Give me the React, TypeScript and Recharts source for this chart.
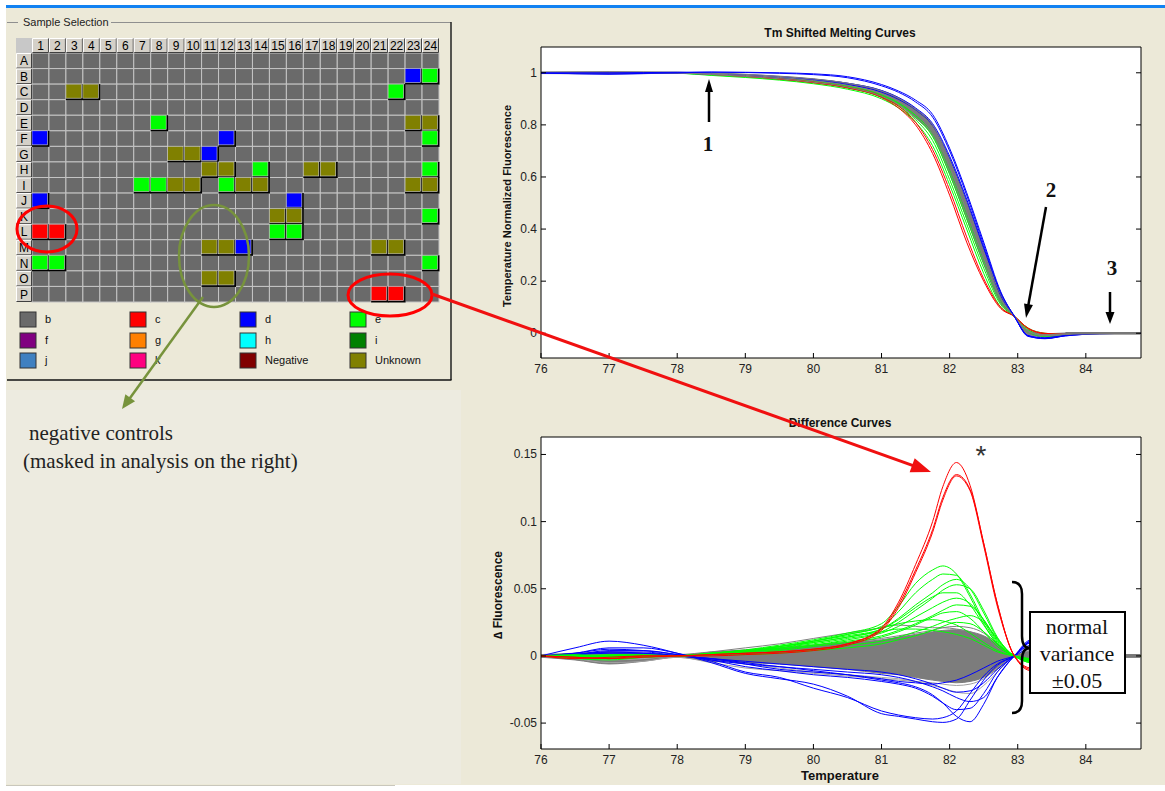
import React from 'react';
import { ComposedChart, Line, Area, XAxis, YAxis, ScatterChart, Scatter } from 'recharts';

const SANS = '"Liberation Sans", Arial, Helvetica, sans-serif';
const SERIF = '"Liberation Serif", "Times New Roman", serif';

const GRAY = '#808080';
const GREEN = '#00FF00';
const BLUE = '#0000FF';
const RED = '#FF0000';

// ---------- plate ----------
const plateCols = [1, 2, 3, 4, 5, 6, 7, 8, 9, 10, 11, 12, 13, 14, 15, 16, 17, 18, 19, 20, 21, 22, 23, 24];
const plateRows = ['A', 'B', 'C', 'D', 'E', 'F', 'G', 'H', 'I', 'J', 'K', 'L', 'M', 'N', 'O', 'P'];
const plateRowTicks = [1, 2, 3, 4, 5, 6, 7, 8, 9, 10, 11, 12, 13, 14, 15, 16];

const wellsC = ['L1', 'L2', 'P21', 'P22'];
const wellsD = ['B23', 'F1', 'F12', 'G11', 'J1', 'J16', 'M13'];
const wellsE = ['B24', 'C22', 'E8', 'F24', 'H14', 'H24', 'I7', 'I8', 'I12', 'K24', 'L15', 'L16', 'N1', 'N2', 'N24'];
const wellsUnknown = [
  'C3', 'C4', 'E23', 'E24', 'G9', 'G10', 'H11', 'H12', 'H17', 'H18', 'I9', 'I10', 'I13', 'I14',
  'I23', 'I24', 'K15', 'K16', 'M11', 'M12', 'M21', 'M22', 'O11', 'O12',
];

const legendLabels = ['b', 'c', 'd', 'e', 'f', 'g', 'h', 'i', 'j', 'k', 'Negative', 'Unknown'];
const legendColors = ['#6A6A6A', '#FF0000', '#0000FF', '#00FF00', '#800080', '#FF8000', '#00FFFF', '#008000', '#3F80C0', '#FF0080', '#800000', '#808000'];

const groupColor: Record<string, string> = {};
legendLabels.forEach((l, i) => { groupColor[l] = legendColors[i]; });

const groupOf = (id: string) =>
  wellsC.includes(id) ? 'c'
    : wellsD.includes(id) ? 'd'
      : wellsE.includes(id) ? 'e'
        : wellsUnknown.includes(id) ? 'Unknown' : 'b';

const wellData = plateRows
  .flatMap((r, ri) => plateCols.map((c) => ({ col: c, row: ri + 1, group: groupOf(r + c) })))
  .sort((a, b) => (a.group === 'b' ? 0 : 1) - (b.group === 'b' ? 0 : 1));

// ---------- melting curves ----------
const tempTicks = [76, 77, 78, 79, 80, 81, 82, 83, 84];
const meltTicks = [0, 0.2, 0.4, 0.6, 0.8, 1];
const meltTemps = [76, 77, 78, 78.5, 79, 79.5, 80, 80.5, 81, 81.25, 81.5, 81.75, 82, 82.25, 82.5, 82.75, 82.95, 83.15, 83.4, 83.7, 84.2, 84.8];

const meltGrayHi = [1.003, 1.004, 1.002, 0.999, 0.994, 0.987, 0.977, 0.96, 0.932, 0.904, 0.862, 0.8, 0.67, 0.505, 0.325, 0.155, 0.068, 0.012, -0.002, 0.001, 0.002, 0.002];
const meltGrayLo = [0.997, 0.996, 0.998, 0.992, 0.985, 0.976, 0.963, 0.944, 0.908, 0.876, 0.826, 0.758, 0.612, 0.44, 0.265, 0.115, 0.062, -0.004, -0.014, -0.008, -0.002, -0.002];

const meltGreen1 = [1, 1, 0.998, 0.99, 0.982, 0.972, 0.958, 0.937, 0.9, 0.865, 0.81, 0.72, 0.57, 0.4, 0.23, 0.1, 0.065, 0.02, 0, -0.005, 0, 0];
const meltGreen2 = [1, 1, 0.999, 0.992, 0.985, 0.975, 0.962, 0.942, 0.906, 0.872, 0.82, 0.74, 0.59, 0.42, 0.25, 0.11, 0.065, 0.01, -0.008, -0.006, 0, 0];
const meltGreen3 = [1, 1, 1, 0.994, 0.987, 0.978, 0.966, 0.947, 0.912, 0.88, 0.83, 0.755, 0.61, 0.44, 0.27, 0.12, 0.065, 0.015, -0.01, -0.006, 0, 0];
const meltGreen4 = [1, 1, 1, 0.995, 0.988, 0.98, 0.968, 0.95, 0.915, 0.884, 0.836, 0.765, 0.625, 0.455, 0.28, 0.125, 0.065, 0.005, -0.012, -0.007, 0, 0];

const meltGray1 = [1, 1, 1, 0.995, 0.99, 0.982, 0.97, 0.952, 0.92, 0.89, 0.845, 0.79, 0.64, 0.47, 0.29, 0.13, 0.065, 0.005, -0.008, -0.004, 0, 0];
const meltGray2 = [1.002, 1.003, 1.002, 0.998, 0.994, 0.986, 0.976, 0.96, 0.93, 0.902, 0.86, 0.8, 0.665, 0.5, 0.315, 0.15, 0.065, 0.008, -0.006, -0.002, 0, 0];
const meltGray3 = [0.998, 0.998, 0.999, 0.993, 0.986, 0.977, 0.964, 0.945, 0.91, 0.878, 0.83, 0.765, 0.62, 0.45, 0.275, 0.12, 0.065, 0.01, -0.01, -0.005, 0, 0];

const meltBlue1 = [1, 1, 1.002, 1.003, 1.002, 1.0, 0.996, 0.985, 0.955, 0.93, 0.895, 0.84, 0.71, 0.54, 0.35, 0.16, 0.065, -0.008, -0.02, -0.01, -0.002, 0];
const meltBlue2 = [0.998, 0.996, 1, 1.002, 1.001, 0.998, 0.993, 0.981, 0.95, 0.925, 0.888, 0.83, 0.7, 0.53, 0.34, 0.155, 0.065, -0.01, -0.021, -0.01, -0.002, 0];
const meltBlue3 = [1, 0.995, 0.999, 0.997, 0.992, 0.985, 0.975, 0.96, 0.932, 0.905, 0.865, 0.805, 0.68, 0.515, 0.33, 0.15, 0.065, -0.012, -0.02, -0.008, 0, 0];
const meltBlue4 = [1, 0.996, 0.998, 0.995, 0.99, 0.982, 0.972, 0.955, 0.926, 0.898, 0.858, 0.797, 0.67, 0.505, 0.322, 0.145, 0.065, -0.009, -0.017, -0.007, 0, 0];

const meltRed1 = [1, 1, 1, 0.994, 0.986, 0.976, 0.962, 0.942, 0.905, 0.865, 0.8, 0.69, 0.53, 0.35, 0.2, 0.095, 0.065, 0.02, 0, -0.004, 0, 0];
const meltRed2 = [1, 1, 1, 0.995, 0.988, 0.978, 0.965, 0.945, 0.91, 0.872, 0.81, 0.705, 0.55, 0.37, 0.21, 0.1, 0.065, 0.018, -0.002, -0.004, 0, 0];

// flat gray baseline drawn on top at the high-temperature end
const meltTail = [null, null, null, null, null, null, null, null, null, null, null, null, null, null, null, null, null, null, null, 0, 0, 0];

const meltSeries = [
  { key: 'g1', color: GREEN, values: meltGreen1 },
  { key: 'g2', color: GREEN, values: meltGreen2 },
  { key: 'g3', color: GREEN, values: meltGreen3 },
  { key: 'g4', color: GREEN, values: meltGreen4 },
  { key: 'r1', color: RED, values: meltRed1 },
  { key: 'r2', color: RED, values: meltRed2 },
  { key: 'b3', color: BLUE, values: meltBlue3 },
  { key: 'b4', color: BLUE, values: meltBlue4 },
  { key: 'k1', color: GRAY, values: meltGray1 },
  { key: 'k2', color: GRAY, values: meltGray2 },
  { key: 'k3', color: GRAY, values: meltGray3 },
  { key: 'b1', color: BLUE, values: meltBlue1 },
  { key: 'b2', color: BLUE, values: meltBlue2 },
  { key: 'tail', color: '#777', values: meltTail, width: 2.5 },
];

// ---------- difference curves ----------
const diffTicks = [-0.05, 0, 0.05, 0.1, 0.15];
const diffTemps = [76, 76.5, 77, 77.5, 78, 78.5, 79, 79.5, 80, 80.5, 81, 81.25, 81.5, 81.75, 81.9, 82.1, 82.3, 82.5, 82.7, 82.95, 83.2, 83.5, 84, 84.8];

const diffGrayHi = [0.001, 0.002, 0.003, 0.002, 0.001, 0.003, 0.0045, 0.006, 0.008, 0.01, 0.012, 0.014, 0.016, 0.018, 0.019, 0.0195, 0.018, 0.015, 0.009, 0.001, 0.004, 0.002, 0.001, 0.001];
const diffGrayLo = [-0.001, -0.003, -0.006, -0.004, -0.001, -0.004, -0.005, -0.006, -0.008, -0.01, -0.013, -0.014, -0.016, -0.018, -0.019, -0.02, -0.019, -0.016, -0.01, -0.001, -0.004, -0.002, -0.001, -0.001];

const diffGray1 = [0, 0.001, 0.002, 0.001, 0, 0.003, 0.006, 0.009, 0.013, 0.017, 0.021, 0.023, 0.022, 0.021, 0.021, 0.02, 0.018, 0.013, 0.006, 0, -0.003, 0, 0, 0];
const diffGray2 = [0, -0.002, -0.005, -0.004, -0.001, -0.005, -0.009, -0.011, -0.013, -0.015, -0.017, -0.018, -0.019, -0.02, -0.021, -0.022, -0.021, -0.017, -0.009, 0, 0.004, 0, 0, 0];
const diffGray3 = [0, -0.001, -0.003, -0.002, 0, -0.003, -0.006, -0.009, -0.012, -0.014, -0.016, -0.017, -0.019, -0.022, -0.024, -0.027, -0.028, -0.022, -0.012, 0, 0.005, 0, 0, 0];
const diffGray4 = [0, 0.001, 0.001, 0.001, 0, 0.001, 0.003, 0.005, 0.008, 0.01, 0.013, 0.015, 0.017, 0.019, 0.021, 0.022, 0.021, 0.017, 0.009, 0, -0.003, 0, 0, 0];

const diffBlue1 = [0, 0.006, 0.011, 0.008, 0.002, -0.005, -0.013, -0.017, -0.021, -0.03, -0.043, -0.045, -0.047, -0.049, -0.0495, -0.047, -0.033, -0.018, -0.007, 0, 0.011, 0.003, 0, 0];
const diffBlue2 = [0, 0.002, 0.006, 0.006, 0.002, -0.004, -0.012, -0.016, -0.024, -0.031, -0.041, -0.044, -0.046, -0.047, -0.046, -0.041, -0.028, -0.015, -0.006, 0, 0.01, 0.002, 0, 0];
const diffBlue3 = [0, 0.001, 0.004, 0.004, 0.001, -0.003, -0.006, -0.008, -0.011, -0.014, -0.018, -0.02, -0.023, -0.029, -0.035, -0.045, -0.049, -0.036, -0.016, 0, 0.012, 0.003, 0, 0];
const diffBlue4 = [0, 0.002, 0.005, 0.004, 0.001, -0.003, -0.008, -0.011, -0.014, -0.016, -0.019, -0.021, -0.024, -0.03, -0.035, -0.04, -0.039, -0.028, -0.012, 0, 0.011, 0.002, 0, 0];
const diffBlue5 = [0, 0.001, 0.003, 0.003, 0, -0.002, -0.005, -0.008, -0.01, -0.012, -0.014, -0.016, -0.019, -0.023, -0.026, -0.031, -0.034, -0.031, -0.016, 0, 0.01, 0.002, 0, 0];
const diffBlue6 = [0, 0.001, 0.002, 0.002, 0, -0.002, -0.004, -0.006, -0.008, -0.01, -0.012, -0.014, -0.017, -0.021, -0.024, -0.027, -0.026, -0.02, -0.01, 0, 0.008, 0.001, 0, 0];
const diffBlue7 = [0, 0.001, 0.003, 0.002, 0, -0.002, -0.006, -0.01, -0.012, -0.014, -0.017, -0.019, -0.02, -0.021, -0.02, -0.018, -0.014, -0.009, -0.004, 0, 0.006, 0.001, 0, 0];

const diffGreen1 = [0, 0.001, 0, 0, 0, 0.002, 0.0045, 0.008, 0.012, 0.017, 0.024, 0.037, 0.054, 0.064, 0.067, 0.061, 0.044, 0.024, 0.009, 0, -0.005, -0.001, 0, 0];
const diffGreen2 = [0, -0.001, -0.002, -0.001, 0, 0.002, 0.004, 0.007, 0.011, 0.016, 0.022, 0.033, 0.047, 0.057, 0.061, 0.06, 0.046, 0.026, 0.01, 0, -0.005, -0.001, 0, 0];
const diffGreen3 = [0, 0, 0.001, 0.001, 0, 0.002, 0.004, 0.007, 0.01, 0.014, 0.02, 0.028, 0.038, 0.047, 0.053, 0.057, 0.05, 0.032, 0.013, 0, -0.004, -0.001, 0, 0];
const diffGreen4 = [0, 0, -0.001, 0, 0, 0.001, 0.003, 0.006, 0.009, 0.013, 0.018, 0.025, 0.034, 0.043, 0.049, 0.053, 0.05, 0.034, 0.014, 0, -0.004, 0, 0, 0];
const diffGreen5 = [0, -0.001, -0.001, 0, 0, 0.002, 0.004, 0.007, 0.011, 0.015, 0.02, 0.027, 0.036, 0.044, 0.047, 0.047, 0.038, 0.023, 0.009, 0, -0.004, 0, 0, 0];
const diffGreen6 = [0, 0, 0, 0, 0, 0.001, 0.003, 0.005, 0.008, 0.012, 0.017, 0.022, 0.029, 0.036, 0.04, 0.043, 0.039, 0.027, 0.011, 0, -0.003, 0, 0, 0];
const diffGreen7 = [0, -0.002, -0.003, -0.001, 0, 0.001, 0.003, 0.005, 0.008, 0.011, 0.015, 0.019, 0.024, 0.03, 0.034, 0.038, 0.037, 0.027, 0.012, 0, -0.003, 0, 0, 0];
const diffGreen8 = [0, 0, 0, 0, 0, 0.001, 0.002, 0.004, 0.007, 0.01, 0.014, 0.018, 0.023, 0.029, 0.032, 0.033, 0.028, 0.018, 0.007, 0, -0.003, 0, 0, 0];
const diffGreen9 = [0, 0, 0, 0, 0, 0.001, 0.002, 0.003, 0.005, 0.008, 0.011, 0.014, 0.018, 0.022, 0.025, 0.028, 0.03, 0.025, 0.013, 0, -0.003, 0, 0, 0];
const diffGreen10 = [0, -0.001, -0.001, 0, 0, 0.002, 0.004, 0.007, 0.011, 0.016, 0.021, 0.024, 0.026, 0.027, 0.026, 0.023, 0.017, 0.01, 0.004, 0, -0.002, 0, 0, 0];
const diffGreen11 = [0, 0, 0, 0, 0, 0.001, 0.001, 0.002, 0.004, 0.006, 0.009, 0.012, 0.015, 0.019, 0.022, 0.025, 0.024, 0.018, 0.009, 0, -0.002, 0, 0, 0];
const diffGreen12 = [0, 0, 0, 0, 0, 0.001, 0.003, 0.006, 0.01, 0.014, 0.018, 0.02, 0.02, 0.019, 0.018, 0.016, 0.013, 0.008, 0.003, 0, -0.002, 0, 0, 0];

const diffRed1 = [0, -0.001, -0.002, -0.001, 0, 0.001, 0.002, 0.003, 0.005, 0.009, 0.021, 0.04, 0.068, 0.1, 0.126, 0.144, 0.127, 0.084, 0.039, 0, -0.009, -0.002, 0, 0];
const diffRed2 = [0, -0.002, -0.001, 0, 0, 0.001, 0.002, 0.003, 0.005, 0.009, 0.02, 0.038, 0.064, 0.094, 0.118, 0.135, 0.124, 0.084, 0.039, 0, -0.01, -0.002, 0, 0];
const diffRed3 = [0, -0.001, -0.002, 0, 0, 0, 0.001, 0.002, 0.004, 0.008, 0.019, 0.036, 0.062, 0.092, 0.116, 0.134, 0.123, 0.082, 0.037, 0, -0.011, -0.002, 0, 0];

const diffTail = [null, null, null, null, null, null, null, null, null, null, null, null, null, null, null, null, null, null, null, null, null, 0, 0, 0];

const diffSeries = [
  { key: 'k1', color: GRAY, values: diffGray1 },
  { key: 'k2', color: '#A0A0A0', values: diffGray2 },
  { key: 'k3', color: '#A8A8A8', values: diffGray3 },
  { key: 'k4', color: GRAY, values: diffGray4 },
  { key: 'b1', color: BLUE, values: diffBlue1 },
  { key: 'b2', color: BLUE, values: diffBlue2 },
  { key: 'b3', color: BLUE, values: diffBlue3 },
  { key: 'b4', color: BLUE, values: diffBlue4 },
  { key: 'b5', color: BLUE, values: diffBlue5 },
  { key: 'b6', color: BLUE, values: diffBlue6 },
  { key: 'b7', color: BLUE, values: diffBlue7 },
  { key: 'g1', color: GREEN, values: diffGreen1 },
  { key: 'g2', color: GREEN, values: diffGreen2 },
  { key: 'g3', color: GREEN, values: diffGreen3 },
  { key: 'g4', color: GREEN, values: diffGreen4 },
  { key: 'g5', color: GREEN, values: diffGreen5 },
  { key: 'g6', color: GREEN, values: diffGreen6 },
  { key: 'g7', color: GREEN, values: diffGreen7 },
  { key: 'g8', color: GREEN, values: diffGreen8 },
  { key: 'g9', color: GREEN, values: diffGreen9 },
  { key: 'g10', color: GREEN, values: diffGreen10 },
  { key: 'g11', color: GREEN, values: diffGreen11 },
  { key: 'g12', color: GREEN, values: diffGreen12 },
  { key: 'r1', color: RED, values: diffRed1 },
  { key: 'r2', color: RED, values: diffRed2 },
  { key: 'r3', color: RED, values: diffRed3 },
  { key: 'tail', color: '#777', values: diffTail, width: 3 },
];

type Series = { key: string; color: string; values: (number | null)[]; width?: number };

function buildRows(temps: number[], lo: number[], hi: number[], series: Series[]) {
  return temps.map((t, i) => {
    const row: Record<string, any> = { t, band: [lo[i], hi[i]] };
    series.forEach((s) => { row[s.key] = s.values[i]; });
    return row;
  });
}

const meltData = buildRows(meltTemps, meltGrayLo, meltGrayHi, meltSeries);
const diffData = buildRows(diffTemps, diffGrayLo, diffGrayHi, diffSeries);

// ---------- axis ticks (MATLAB style: marks inside the box) ----------
function BottomTick(props: any) {
  const { x, y, payload } = props;
  return (
    <g>
      <line x1={x} x2={x} y1={y} y2={y - 5} stroke="#000" />
      <text x={x} y={y + 15} textAnchor="middle" fontSize={12} fontFamily={SANS} fill="#222">{payload.value}</text>
    </g>
  );
}
function TopTick(props: any) {
  const { x, y } = props;
  return <line x1={x} x2={x} y1={y} y2={y + 5} stroke="#000" />;
}
function LeftTick(props: any) {
  const { x, y, payload } = props;
  return (
    <g>
      <line x1={x} x2={x + 5} y1={y} y2={y} stroke="#000" />
      <text x={x - 4} y={y + 4} textAnchor="end" fontSize={12} fontFamily={SANS} fill="#222">{payload.value}</text>
    </g>
  );
}
function RightTick(props: any) {
  const { x, y } = props;
  return <line x1={x} x2={x - 5} y1={y} y2={y} stroke="#000" />;
}

function seriesLine(s: Series) {
  return (
    <Line key={s.key} dataKey={s.key} type="monotone" stroke={s.color} strokeWidth={s.width ?? 1}
      dot={false} activeDot={false} isAnimationActive={false} />
  );
}

// bandAt: how many series are drawn beneath the dense gray band
function CurveChart({ data, series, yDomain, yTicks, bottom, bandAt }: any) {
  return (
    <ComposedChart width={670} height={370} data={data} margin={{ top: 26, right: 18, bottom, left: 6 }}>
      <XAxis dataKey="t" type="number" domain={[76, 84.81]} ticks={tempTicks} interval={0} allowDataOverflow
        height={20} tickSize={0} tickMargin={0} tick={<BottomTick />} stroke="#000" />
      <XAxis xAxisId="top" orientation="top" type="number" domain={[76, 84.81]} ticks={tempTicks} interval={0}
        allowDataOverflow height={1} tickSize={0} tickMargin={0} tick={<TopTick />} stroke="#000" />
      <YAxis type="number" domain={yDomain} ticks={yTicks} interval={0} allowDataOverflow width={45}
        tickSize={0} tickMargin={0} tick={<LeftTick />} stroke="#000" />
      <YAxis yAxisId="right" orientation="right" type="number" domain={yDomain} ticks={yTicks} interval={0}
        allowDataOverflow width={1} tickSize={0} tickMargin={0} tick={<RightTick />} stroke="#000" />
      {series.slice(0, bandAt).map(seriesLine)}
      <Area dataKey="band" type="monotone" fill="#7C7C7C" fillOpacity={1} stroke="#7C7C7C" strokeWidth={1}
        isAnimationActive={false} activeDot={false} />
      {series.slice(bandAt).map(seriesLine)}
    </ComposedChart>
  );
}

// ---------- plate chart ----------
const PLATE_W = 450;
const PLATE_H = 310;
const CELL_W = (PLATE_W - 16 - 16 - 11) / 24;
const CELL_H = (PLATE_H - 38 - 15 - 8) / 16;

function WellShape(props: any) {
  const { cx, cy, payload } = props;
  const x = cx - CELL_W / 2;
  const y = cy - CELL_H / 2;
  if (payload.group === 'b') {
    return <rect x={x} y={y} width={CELL_W} height={CELL_H} fill="#6A6A6A" stroke="#C4C4C4" strokeWidth={1} />;
  }
  return (
    <g>
      <rect x={x} y={y} width={CELL_W + 0.5} height={CELL_H + 0.5} fill="#000" />
      <rect x={x} y={y} width={CELL_W - 1.5} height={CELL_H - 1.5} fill={groupColor[payload.group]} stroke="#D8D8D8" strokeWidth={0.6} />
    </g>
  );
}

function headerBox(x: number, y: number, w: number, h: number) {
  return (
    <g>
      <rect x={x} y={y} width={w} height={h} fill="#D4D0C8" />
      <path d={`M${x + 0.5},${y + h - 0.5} V${y + 0.5} H${x + w - 0.5}`} stroke="#fff" fill="none" />
      <path d={`M${x + w - 0.5},${y + 0.5} V${y + h - 0.5} H${x + 0.5}`} stroke="#404040" fill="none" />
    </g>
  );
}

function ColHeader(props: any) {
  const { x, y, payload } = props;
  return (
    <g>
      {headerBox(x - CELL_W / 2, y - 15, CELL_W, 15)}
      <text x={x} y={y - 3} textAnchor="middle" fontSize={12} fontFamily={SANS} fill="#000">{payload.value}</text>
    </g>
  );
}
function RowHeader(props: any) {
  const { x, y, payload } = props;
  return (
    <g>
      {headerBox(x - 16, y - CELL_H / 2, 16, CELL_H)}
      <text x={x - 8} y={y + 4.5} textAnchor="middle" fontSize={12} fontFamily={SANS} fill="#000">
        {plateRows[payload.value - 1]}
      </text>
    </g>
  );
}

function PlateChart() {
  return (
    <ScatterChart width={PLATE_W} height={PLATE_H} margin={{ top: 38, right: 11, bottom: 8, left: 16 }}>
      <XAxis dataKey="col" type="number" orientation="top" domain={[0.5, 24.5]} ticks={plateCols} interval={0}
        height={15} tickSize={0} tickMargin={0} axisLine={false} tick={<ColHeader />} />
      <YAxis dataKey="row" type="number" reversed domain={[0.5, 16.5]} ticks={plateRowTicks} interval={0}
        width={16} tickSize={0} tickMargin={0} axisLine={false} tick={<RowHeader />} />
      <Scatter data={wellData} shape={<WellShape />} isAnimationActive={false} />
    </ScatterChart>
  );
}

function Arrow({ x1, y1, x2, y2, color, w, head, headW }: any) {
  const a = Math.atan2(y2 - y1, x2 - x1);
  const bx = x2 - head * Math.cos(a);
  const by = y2 - head * Math.sin(a);
  const px = (-Math.sin(a) * headW) / 2;
  const py = (Math.cos(a) * headW) / 2;
  return (
    <g>
      <line x1={x1} y1={y1} x2={bx + head * 0.2 * Math.cos(a)} y2={by + head * 0.2 * Math.sin(a)} stroke={color} strokeWidth={w} />
      <polygon points={`${x2},${y2} ${bx + px},${by + py} ${bx - px},${by - py}`} fill={color} />
    </g>
  );
}

const OLIVE_LINE = '#77933C';

export default function App() {
  const legendX = [20, 130, 240, 350];
  const legendY = [312, 333, 353];
  return (
    <div style={{ position: 'fixed', left: 0, top: 0, width: 1165, height: 791, background: '#fff', overflow: 'hidden' }}>
      {/* background panels */}
      <svg width={1165} height={791} style={{ position: 'absolute', left: 0, top: 0 }}>
        <rect x={6} y={8} width={1159} height={777} fill="#ECE9D8" />
        <rect x={6} y={390} width={455} height={394} fill="#EDEBE0" />
        <rect x={6} y={5} width={1159} height={3} fill="#1282F2" />
        <line x1={6} y1={785.5} x2={395} y2={785.5} stroke="#C9C7BC" />
        {/* group box */}
        <line x1={7} y1={22.5} x2={18} y2={22.5} stroke="#8F8F8F" />
        <line x1={111} y1={22.5} x2={451} y2={22.5} stroke="#8F8F8F" />
        <line x1={451} y1={22} x2={451} y2={380} stroke="#222" strokeWidth={1.5} />
        <line x1={7} y1={380} x2={451.5} y2={380} stroke="#111" strokeWidth={1.5} />
        <text x={23} y={26} fontSize={11} fontFamily={SANS} fill="#222">Sample Selection</text>
        <rect x={16} y={38} width={16} height={15} fill="#C8C8C8" />
        {/* legend */}
        {legendLabels.map((l, i) => {
          const x = legendX[i % 4];
          const y = legendY[Math.floor(i / 4)];
          return (
            <g key={l}>
              <rect x={x} y={y} width={16} height={15} fill={legendColors[i]} stroke="#333" strokeWidth={1} />
              <text x={x + 25} y={y + 11} fontSize={11} fontFamily={SANS} fill="#111">{l}</text>
            </g>
          );
        })}
        {/* plot backgrounds */}
        <rect x={541} y={47} width={600} height={311} fill="#fff" />
        <rect x={541} y={437} width={600} height={312} fill="#fff" />
      </svg>

      <div style={{ position: 'absolute', left: 0, top: 0 }}>
        <PlateChart />
      </div>
      <div style={{ position: 'absolute', left: 490, top: 20 }}>
        <CurveChart data={meltData} series={meltSeries} yDomain={[-0.095, 1.099]} yTicks={meltTicks} bottom={12} bandAt={8} />
      </div>
      <div style={{ position: 'absolute', left: 490, top: 410 }}>
        <CurveChart data={diffData} series={diffSeries} yDomain={[-0.0693, 0.163]} yTicks={diffTicks} bottom={11} bandAt={0} />
      </div>

      {/* titles, axis names and annotations */}
      <svg width={1165} height={791} style={{ position: 'absolute', left: 0, top: 0, pointerEvents: 'none' }}>
        <text x={840} y={37} textAnchor="middle" fontSize={12} fontWeight="bold" fontFamily={SANS} fill="#111">Tm Shifted Melting Curves</text>
        <text x={840} y={427} textAnchor="middle" fontSize={12} fontWeight="bold" fontFamily={SANS} fill="#111">Difference Curves</text>
        <text x={840} y={780} textAnchor="middle" fontSize={13} fontWeight="bold" fontFamily={SANS} fill="#111">Temperature</text>
        <text transform="translate(511,206) rotate(-90)" textAnchor="middle" fontSize={11} fontWeight="bold" fontFamily={SANS} fill="#111">
          Temperature Normalized Fluorescence
        </text>
        <text transform="translate(502,595) rotate(-90)" textAnchor="middle" fontSize={12} fontWeight="bold" fontFamily={SANS} fill="#111">
          ∆ Fluorescence
        </text>

        <Arrow x1={709} y1={122} x2={709} y2={79} color="#000" w={2.5} head={13} headW={8} />
        <text x={708} y={151} textAnchor="middle" fontSize={21} fontWeight="bold" fontFamily={SERIF} fill="#111">1</text>
        <Arrow x1={1046} y1={207} x2={1026} y2={318} color="#000" w={2.5} head={14} headW={9} />
        <text x={1051} y={197} textAnchor="middle" fontSize={21} fontWeight="bold" fontFamily={SERIF} fill="#111">2</text>
        <Arrow x1={1110} y1={292} x2={1110} y2={324} color="#000" w={2.5} head={12} headW={9} />
        <text x={1112} y={275} textAnchor="middle" fontSize={21} fontWeight="bold" fontFamily={SERIF} fill="#111">3</text>

        <text x={981} y={465} textAnchor="middle" fontSize={28} fontFamily={SANS} fill="#333">*</text>
        <path d="M1012,582 Q1022,582 1022,594 L1022,636 Q1022,648 1030,648 Q1022,648 1022,660 L1022,701 Q1022,713 1012,713"
          stroke="#000" strokeWidth={2.5} fill="none" />
        <rect x={1030} y={612} width={95} height={81} fill="#fff" stroke="#000" strokeWidth={2} />
        <text x={1077} y={634} textAnchor="middle" fontSize={22} fontFamily={SERIF} fill="#111">normal</text>
        <text x={1077} y={661} textAnchor="middle" fontSize={22} fontFamily={SERIF} fill="#111">variance</text>
        <text x={1077} y={688} textAnchor="middle" fontSize={22} fontFamily={SERIF} fill="#111">±0.05</text>

        <ellipse cx={47} cy={229} rx={30} ry={23} fill="none" stroke={RED} strokeWidth={3} />
        <ellipse cx={390} cy={295} rx={42} ry={21} fill="none" stroke={RED} strokeWidth={3} />
        <ellipse cx={214} cy={256} rx={35} ry={51} fill="none" stroke={OLIVE_LINE} strokeWidth={2.5} />
        <Arrow x1={432} y1={294} x2={931} y2={472} color="#F01010" w={3} head={20} headW={15} />
        <Arrow x1={203} y1={297} x2={122} y2={409} color={OLIVE_LINE} w={2.5} head={14} headW={12} />

        <text x={29} y={440} fontSize={21} fontFamily={SERIF} fill="#222">negative controls</text>
        <text x={23} y={468} fontSize={21} fontFamily={SERIF} fill="#222">(masked in analysis on the right)</text>
      </svg>
    </div>
  );
}
